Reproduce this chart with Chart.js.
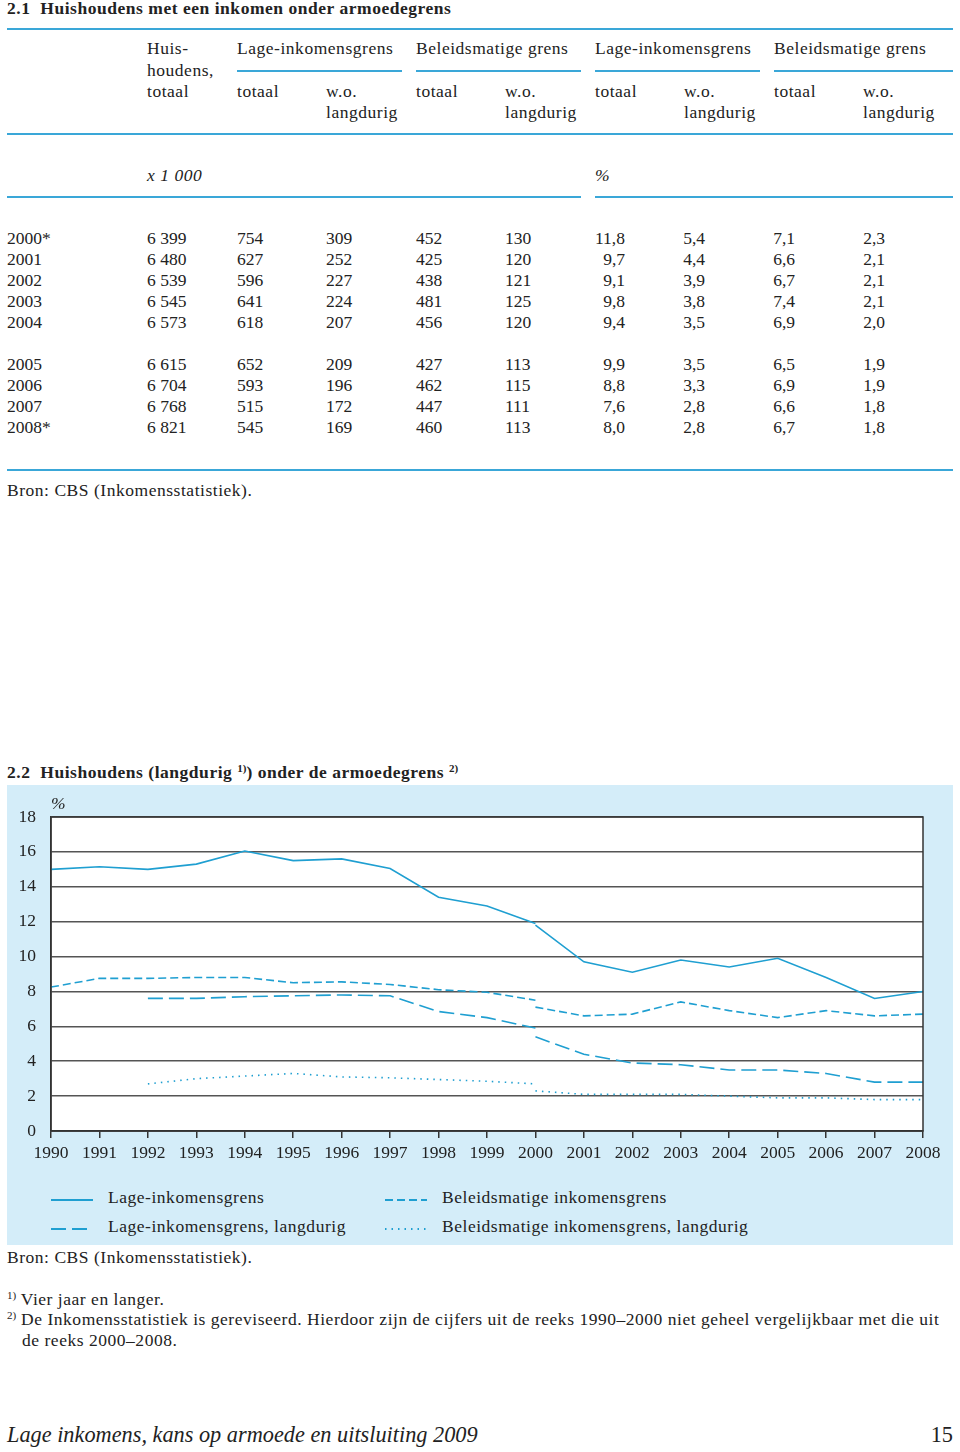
<!DOCTYPE html>
<html>
<head>
<meta charset="utf-8">
<script src="https://cdn.jsdelivr.net/npm/chart.js@4.4.1/dist/chart.umd.min.js"></script>
<style>
  body { margin:0; background:#fff; font-family:"Liberation Serif", serif; color:#222; }
  #page { position:relative; width:960px; height:1452px; overflow:hidden; }
  .t { position:absolute; font-size:17.5px; line-height:20px; white-space:nowrap; letter-spacing:0.53px; }
  .n { letter-spacing:0; }
  .b { font-weight:bold; }
  .i { font-style:italic; }
  .r { text-align:right; }
  .hl { position:absolute; height:2px; background:#3aa7d8; }
  #box { position:absolute; left:7px; top:785px; width:946px; height:460px; background:#d4edf9; }
  #wrap { position:absolute; left:7px; top:790px; width:946px; height:385px; }
  sup { font-size:11px; vertical-align:6px; line-height:0; letter-spacing:0; }
</style>
</head>
<body>
<div id="page">
  <div id="box"></div>
  <div id="wrap"><canvas id="myChart"></canvas></div>
</div>
<script>
// table 2.1
var tableYears = ["2000*","2001","2002","2003","2004","2005","2006","2007","2008*"];
var huishoudens = ["6 399","6 480","6 539","6 545","6 573","6 615","6 704","6 768","6 821"];
var lageAbs = [754,627,596,641,618,652,593,515,545];
var lageLangAbs = [309,252,227,224,207,209,196,172,169];
var beleidAbs = [452,425,438,481,456,427,462,447,460];
var beleidLangAbs = [130,120,121,125,120,113,115,111,113];
var lagePct = [11.8,9.7,9.1,9.8,9.4,9.9,8.8,7.6,8.0];
var lageLangPct = [5.4,4.4,3.9,3.8,3.5,3.5,3.3,2.8,2.8];
var beleidPct = [7.1,6.6,6.7,7.4,6.9,6.5,6.9,6.6,6.7];
var beleidLangPct = [2.3,2.1,2.1,2.1,2.0,1.9,1.9,1.8,1.8];

// figure 2.2, series 1990-2000 (old statistics)
var years = ["1990","1991","1992","1993","1994","1995","1996","1997","1998","1999","2000","2001","2002","2003","2004","2005","2006","2007","2008"];
var lageOld = [15.0,15.15,15.0,15.3,16.05,15.5,15.6,15.05,13.4,12.9,11.9,null,null,null,null,null,null,null,null];
var beleidOld = [8.25,8.75,8.75,8.8,8.8,8.5,8.55,8.4,8.1,7.95,7.5,null,null,null,null,null,null,null,null];
var lageLangOld = [null,null,7.6,7.6,7.7,7.75,7.8,7.75,6.85,6.5,5.9,null,null,null,null,null,null,null,null];
var beleidLangOld = [null,null,2.7,3.0,3.15,3.3,3.1,3.05,2.95,2.85,2.7,null,null,null,null,null,null,null,null];
var yTicks = [0,2,4,6,8,10,12,14,16,18];

var page = document.getElementById("page");
function txt(s, x, y, cls, w) {
  var d = document.createElement("div");
  d.className = "t " + (cls || "");
  d.innerHTML = s;
  d.style.left = x + "px";
  d.style.top = (y - 10) + "px";
  if (w) d.style.width = w + "px";
  page.appendChild(d);
  return d;
}
function hline(x1, x2, y) {
  var d = document.createElement("div");
  d.className = "hl";
  d.style.left = x1 + "px"; d.style.top = (y - 1) + "px"; d.style.width = (x2 - x1) + "px";
  page.appendChild(d);
}
function fmt(v) { return v.toFixed(1).replace(".", ","); }

txt("2.1&nbsp; Huishoudens met een inkomen onder armoedegrens", 7, 8, "b");
hline(7, 953, 29);
txt("Huis-", 147, 48); txt("houdens,", 147, 70); txt("totaal", 147, 91);
var grp = ["Lage-inkomensgrens","Beleidsmatige grens","Lage-inkomensgrens","Beleidsmatige grens"];
var gx = [237, 416, 595, 774];
var gEnd = [402, 581, 760, 953];
for (var g = 0; g < 4; g++) {
  txt(grp[g], gx[g], 48);
  hline(gx[g], gEnd[g], 71);
  txt("totaal", gx[g], 91);
  txt("w.o.", gx[g] + 89, 91);
  txt("langdurig", gx[g] + 89, 112);
}
hline(7, 953, 134);
txt("x 1 000", 147, 175, "i");
txt("%", 595, 175, "i");
hline(7, 581, 197); hline(595, 953, 197);
var rowY = [238,259,280,301,322,364,385,406,427];
for (var i = 0; i < tableYears.length; i++) {
  var y = rowY[i];
  txt(tableYears[i], 7, y, "n");
  txt(huishoudens[i], 147, y, "n");
  txt(lageAbs[i], 237, y, "n");
  txt(lageLangAbs[i], 326, y, "n");
  txt(beleidAbs[i], 416, y, "n");
  txt(beleidLangAbs[i], 505, y, "n");
  txt(fmt(lagePct[i]), 565, y, "n r", 60);
  txt(fmt(lageLangPct[i]), 645, y, "n r", 60);
  txt(fmt(beleidPct[i]), 735, y, "n r", 60);
  txt(fmt(beleidLangPct[i]), 825, y, "n r", 60);
}
hline(7, 953, 470);
txt("Bron: CBS (Inkomensstatistiek).", 7, 490);

txt("2.2&nbsp; Huishoudens (langdurig <sup>1)</sup>) onder de armoedegrens <sup>2)</sup>", 7, 772, "b");
txt("%", 51, 803, "i");

// legend
var blue = "#1f9fd1";
var legendItems = [
  {label:"Lage-inkomensgrens", x:51, y:1197, dash:""},
  {label:"Beleidsmatige inkomensgrens", x:385, y:1197, dash:"8,4"},
  {label:"Lage-inkomensgrens, langdurig", x:51, y:1226, dash:"15,6"},
  {label:"Beleidsmatige inkomensgrens, langdurig", x:385, y:1226, dash:"1.5,5"}
];
legendItems.forEach(function (it) {
  var s = document.createElementNS("http://www.w3.org/2000/svg", "svg");
  s.setAttribute("width", "44"); s.setAttribute("height", "6");
  s.style.position = "absolute"; s.style.left = it.x + "px"; s.style.top = (it.y) + "px";
  s.innerHTML = '<line x1="0" y1="3" x2="42" y2="3" stroke="' + blue + '" stroke-width="2" stroke-dasharray="' + it.dash + '"/>';
  page.appendChild(s);
  txt(it.label, it.x + 57, it.y);
});
txt("Bron: CBS (Inkomensstatistiek).", 7, 1257);
txt("<sup>1)</sup> Vier jaar en langer.", 7, 1299);
txt("<sup>2)</sup> De Inkomensstatistiek is gereviseerd. Hierdoor zijn de cijfers uit de reeks 1990–2000 niet geheel vergelijkbaar met die uit", 7, 1319);
txt("de reeks 2000–2008.", 22, 1340);
var f = txt("Lage inkomens, kans op armoede en uitsluiting 2009", 7, 1435, "i n");
f.style.fontSize = "22.3px";
var p = txt("15", 913, 1435, "r n", 40);
p.style.fontSize = "22.3px";

function pad(arr) {
  // place 2000-2008 values onto the 1990-2008 axis
  return years.map(function (yr) {
    var k = yr - 2000;
    return k >= 0 ? arr[k] : null;
  });
}
function ds(label, data, dash) {
  return { label: label, data: data, borderColor: blue, borderWidth: 1.6, borderDash: dash,
           pointRadius: 0, fill: false, tension: 0, spanGaps: false };
}

var framePlugin = {
  id: "frame",
  beforeDraw: function (chart) {
    var c = chart.ctx, a = chart.chartArea;
    c.save(); c.fillStyle = "#fff"; c.fillRect(a.left, a.top, a.right - a.left, a.bottom - a.top); c.restore();
  },
  afterDraw: function (chart) {
    var c = chart.ctx, a = chart.chartArea;
    c.save(); c.strokeStyle = "#333"; c.lineWidth = 1.5;
    c.strokeRect(a.left, a.top, a.right - a.left, a.bottom - a.top); c.restore();
  }
};

var ctx = document.getElementById("myChart");
var myChart = new Chart(ctx, {
  type: "line",
  data: {
    labels: years,
    datasets: [
      ds("Lage-inkomensgrens", lageOld, []),
      ds("Lage-inkomensgrens", pad(lagePct), []),
      ds("Beleidsmatige inkomensgrens", beleidOld, [8, 4]),
      ds("Beleidsmatige inkomensgrens", pad(beleidPct), [8, 4]),
      ds("Lage-inkomensgrens, langdurig", lageLangOld, [15, 6]),
      ds("Lage-inkomensgrens, langdurig", pad(lageLangPct), [15, 6]),
      ds("Beleidsmatige inkomensgrens, langdurig", beleidLangOld, [1.5, 5]),
      ds("Beleidsmatige inkomensgrens, langdurig", pad(beleidLangPct), [1.5, 5])
    ]
  },
  options: {
    responsive: true,
    maintainAspectRatio: false,
    animation: false,
    layout: { padding: { top: 27, right: 30, left: 0, bottom: 0 } },
    plugins: { legend: { display: false }, tooltip: { enabled: false } },
    scales: {
      x: {
        offset: false,
        grid: { drawOnChartArea: false, drawTicks: true, tickLength: 7, color: "#333", lineWidth: 1.5 },
        border: { color: "#333", width: 1.5 },
        ticks: { color: "#222", font: { family: "Liberation Serif", size: 17.5 }, padding: 5, maxRotation: 0, autoSkip: false },
        afterFit: function (s) { s.height = 44; }
      },
      y: {
        min: 0, max: 18,
        afterBuildTicks: function (s) { s.ticks = yTicks.map(function (v) { return { value: v }; }); },
        grid: { drawTicks: false, color: "#555", lineWidth: 1.5 },
        border: { color: "#333", width: 1.5 },
        ticks: { color: "#222", font: { family: "Liberation Serif", size: 17.5 }, padding: 15 },
        afterFit: function (s) { s.width = 44; }
      }
    }
  },
  plugins: [framePlugin]
});
</script>
</body>
</html>
